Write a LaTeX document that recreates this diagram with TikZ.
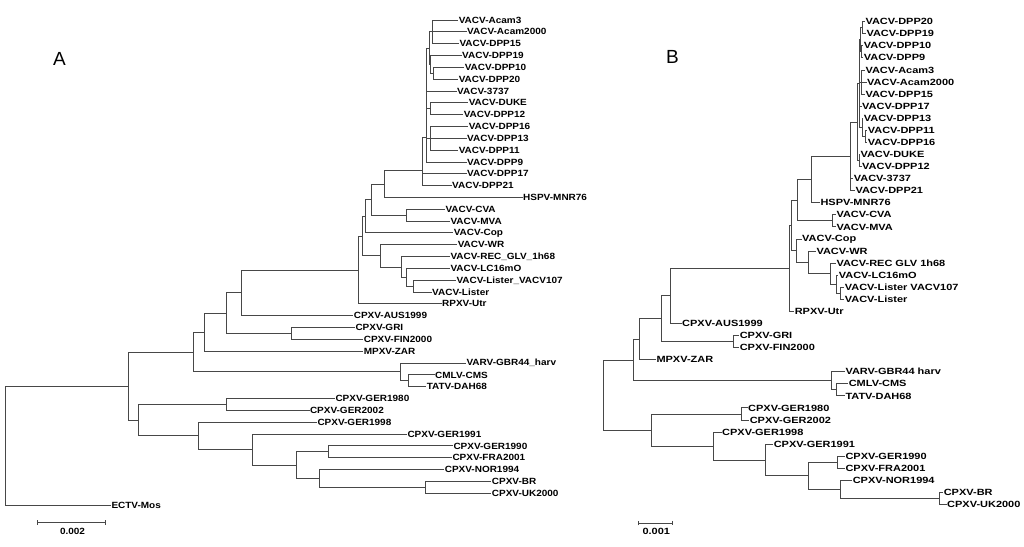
\documentclass[tikz,border=0pt]{standalone}
\usepackage{fontspec}
\setmainfont{Liberation Sans}
\newfontfamily\treefontA[FakeStretch=1.11]{Liberation Sans}
\newfontfamily\treefontB[FakeStretch=1.22]{Liberation Sans}
\usetikzlibrary{arrows.meta}

\tikzset{
  branch/.style={draw=black!72,line width=1pt},
  leafA/.style={anchor=west,inner xsep=0.3pt,inner ysep=0pt,font=\treefontA\fontsize{9}{9}\selectfont\bfseries},
  leafB/.style={anchor=west,inner xsep=0.3pt,inner ysep=0pt,font=\treefontB\fontsize{9}{9}\selectfont\bfseries},
  panel/.style={font=\fontsize{19}{19}\selectfont},
  scalebar/.style={draw=black!72,line width=1.2pt,{Bar[width=4.5pt]}-{Bar[width=4.5pt]}}
}

\begin{document}
\begin{tikzpicture}[x=1pt,y=-1pt]
\useasboundingbox (0,0) rectangle (1024,546);

% ---------------- tree A ----------------
\node[panel] (labA) at (59.5,59) {A};

\node[leafA] (aAcam3) at (458.3,20) {VACV-Acam3};
\node[leafA] (aAcam2000) at (466.7,31.8) {VACV-Acam2000};
\node[leafA] (aDPP15) at (459,43.7) {VACV-DPP15};
\node[leafA] (aDPP19) at (461.7,55.5) {VACV-DPP19};
\node[leafA] (aDPP10) at (464.3,67.3) {VACV-DPP10};
\node[leafA] (aDPP20) at (458.3,79.2) {VACV-DPP20};
\node[leafA] (a3737) at (456.7,91) {VACV-3737};
\node[leafA] (aDUKE) at (468.3,102.8) {VACV-DUKE};
\node[leafA] (aDPP12) at (463.3,114.6) {VACV-DPP12};
\node[leafA] (aDPP16) at (468.3,126.5) {VACV-DPP16};
\node[leafA] (aDPP13) at (466.7,138.3) {VACV-DPP13};
\node[leafA] (aDPP11) at (458.3,150.1) {VACV-DPP11};
\node[leafA] (aDPP9) at (466.7,162) {VACV-DPP9};
\node[leafA] (aDPP17) at (466.7,173.8) {VACV-DPP17};
\node[leafA] (aDPP21) at (451.7,185.6) {VACV-DPP21};
\node[leafA] (aHSPV) at (522.7,197.5) {HSPV-MNR76};
\node[leafA] (aCVA) at (445,209.3) {VACV-CVA};
\node[leafA] (aMVA) at (450,221.1) {VACV-MVA};
\node[leafA] (aCop) at (453.3,232.9) {VACV-Cop};
\node[leafA] (aWR) at (457.3,244.8) {VACV-WR};
\node[leafA] (aREC) at (450,256.6) {VACV-REC\_GLV\_1h68};
\node[leafA] (aLC) at (450,268.4) {VACV-LC16mO};
\node[leafA] (aLV) at (456,280.3) {VACV-Lister\_VACV107};
\node[leafA] (aLister) at (431.7,292.1) {VACV-Lister};
\node[leafA] (aRPXV) at (441.7,303.9) {RPXV-Utr};
\node[leafA] (aAUS) at (353.3,315.8) {CPXV-AUS1999};
\node[leafA] (aGRI) at (355,327.6) {CPXV-GRI};
\node[leafA] (aFIN) at (363.3,339.4) {CPXV-FIN2000};
\node[leafA] (aMPXV) at (363.3,351.2) {MPXV-ZAR};
\node[leafA] (aVARV) at (466,363.1) {VARV-GBR44\_harv};
\node[leafA] (aCMLV) at (434.7,374.9) {CMLV-CMS};
\node[leafA] (aTATV) at (426.3,386.7) {TATV-DAH68};
\node[leafA] (aG80) at (335,398.6) {CPXV-GER1980};
\node[leafA] (aG02) at (309.5,410.4) {CPXV-GER2002};
\node[leafA] (aG98) at (317,422.2) {CPXV-GER1998};
\node[leafA] (aG91) at (407,434) {CPXV-GER1991};
\node[leafA] (aG90) at (453,445.9) {CPXV-GER1990};
\node[leafA] (aFRA) at (452,457.7) {CPXV-FRA2001};
\node[leafA] (aNOR) at (444.3,469.5) {CPXV-NOR1994};
\node[leafA] (aBR) at (491.4,481.4) {CPXV-BR};
\node[leafA] (aUK) at (491.4,493.2) {CPXV-UK2000};
\node[leafA] (aECTV) at (111,505) {ECTV-Mos};

\coordinate (aN1) at (432.7,31.8);
\coordinate (aN2) at (433.3,73.2);
\coordinate (aN3) at (430.7,64.4);
\coordinate (aN4) at (430.7,108.7);
\coordinate (aN5) at (430.7,138.3);
\coordinate (aC1) at (429,48.1);
\coordinate (aC2) at (426.7,69.5);
\coordinate (aC3) at (426.7,89.1);
\coordinate (aC4) at (426.7,113.7);
\coordinate (aC5) at (426.7,137.8);
\coordinate (aC6) at (422.7,155.8);
\coordinate (aC7) at (422.3,170.7);
\coordinate (aN6) at (384,184.1);
\coordinate (aN7) at (406.7,215.2);
\coordinate (aN8) at (371.7,199.6);
\coordinate (aN9) at (365,216.3);
\coordinate (aL1) at (413.3,286.2);
\coordinate (aL2) at (406.7,277.3);
\coordinate (aL3) at (401.7,267);
\coordinate (aL4) at (380,255.9);
\coordinate (aN10) at (362.7,236.1);
\coordinate (aN11) at (358.3,270);
\coordinate (aN12) at (241,292.9);
\coordinate (aN13) at (291.8,333.5);
\coordinate (aN14) at (226,313.2);
\coordinate (aN15) at (204,332.2);
\coordinate (aN16) at (408,380.8);
\coordinate (aN17) at (400,371.9);
\coordinate (aN18) at (193.4,352);
\coordinate (aG1) at (226.7,404.5);
\coordinate (aG2) at (328.6,451.8);
\coordinate (aG3) at (425,487.3);
\coordinate (aG4) at (319.8,478.4);
\coordinate (aG5) at (296,465.1);
\coordinate (aG6) at (252.8,449.6);
\coordinate (aG7) at (198.4,435.9);
\coordinate (aG8) at (138.6,420.2);
\coordinate (aN19) at (128.3,386.1);
\coordinate (aRoot) at (5.4,445.6);

\draw[branch] (aN1) |- (aAcam3) (aN1) |- (aAcam2000) (aN1) |- (aDPP15);
\draw[branch] (aN2) |- (aDPP10) (aN2) |- (aDPP20);
\draw[branch] (aN3) |- (aDPP19) (aN3) |- (aN2);
\draw[branch] (aN4) |- (aDUKE) (aN4) |- (aDPP12);
\draw[branch] (aN5) |- (aDPP16) (aN5) |- (aDPP13) (aN5) |- (aDPP11);
\draw[branch] (aC1) |- (aN1) (aC1) |- (aN3);
\draw[branch] (aC2) |- (aC1) (aC2) |- (a3737);
\draw[branch] (aC3) |- (aC2) (aC3) |- (aN4);
\draw[branch] (aC4) |- (aC3) (aC4) |- (aN5);
\draw[branch] (aC5) |- (aC4) (aC5) |- (aDPP9);
\draw[branch] (aC6) |- (aC5) (aC6) |- (aDPP17);
\draw[branch] (aC7) |- (aC6) (aC7) |- (aDPP21);
\draw[branch] (aN6) |- (aC7) (aN6) |- (aHSPV);
\draw[branch] (aN7) |- (aCVA) (aN7) |- (aMVA);
\draw[branch] (aN8) |- (aN6) (aN8) |- (aN7);
\draw[branch] (aN9) |- (aN8) (aN9) |- (aCop);
\draw[branch] (aL1) |- (aLV) (aL1) |- (aLister);
\draw[branch] (aL2) |- (aLC) (aL2) |- (aL1);
\draw[branch] (aL3) |- (aREC) (aL3) |- (aL2);
\draw[branch] (aL4) |- (aWR) (aL4) |- (aL3);
\draw[branch] (aN10) |- (aN9) (aN10) |- (aL4);
\draw[branch] (aN11) |- (aN10) (aN11) |- (aRPXV);
\draw[branch] (aN12) |- (aN11) (aN12) |- (aAUS);
\draw[branch] (aN13) |- (aGRI) (aN13) |- (aFIN);
\draw[branch] (aN14) |- (aN12) (aN14) |- (aN13);
\draw[branch] (aN15) |- (aN14) (aN15) |- (aMPXV);
\draw[branch] (aN16) |- (aCMLV) (aN16) |- (aTATV);
\draw[branch] (aN17) |- (aVARV) (aN17) |- (aN16);
\draw[branch] (aN18) |- (aN15) (aN18) |- (aN17);
\draw[branch] (aG1) |- (aG80) (aG1) |- (aG02);
\draw[branch] (aG2) |- (aG90) (aG2) |- (aFRA);
\draw[branch] (aG3) |- (aBR) (aG3) |- (aUK);
\draw[branch] (aG4) |- (aNOR) (aG4) |- (aG3);
\draw[branch] (aG5) |- (aG2) (aG5) |- (aG4);
\draw[branch] (aG6) |- (aG91) (aG6) |- (aG5);
\draw[branch] (aG7) |- (aG98) (aG7) |- (aG6);
\draw[branch] (aG8) |- (aG1) (aG8) |- (aG7);
\draw[branch] (aN19) |- (aN18) (aN19) |- (aG8);
\draw[branch] (aRoot) |- (aN19) (aRoot) |- (aECTV);

\coordinate (aBarL) at (36.5,522.7);
\coordinate (aBarR) at (106,522.7);
\draw[scalebar] (aBarL) -- (aBarR);
\node[leafA,anchor=center] (aScale) at (72.5,531) {0.002};

% ---------------- tree B ----------------
\node[panel] (labB) at (672.5,57) {B};

\node[leafB] (bDPP20) at (865,21.7) {VACV-DPP20};
\node[leafB] (bDPP19) at (866,33.8) {VACV-DPP19};
\node[leafB] (bDPP10) at (863.3,45.8) {VACV-DPP10};
\node[leafB] (bDPP9) at (863.3,57.9) {VACV-DPP9};
\node[leafB] (bAcam3) at (865,70) {VACV-Acam3};
\node[leafB] (bAcam2000) at (866.7,82.1) {VACV-Acam2000};
\node[leafB] (bDPP15) at (865,94.1) {VACV-DPP15};
\node[leafB] (bDPP17) at (861.7,106.2) {VACV-DPP17};
\node[leafB] (bDPP13) at (863.3,118.3) {VACV-DPP13};
\node[leafB] (bDPP11) at (867.3,130.3) {VACV-DPP11};
\node[leafB] (bDPP16) at (867.3,142.4) {VACV-DPP16};
\node[leafB] (bDUKE) at (860,154.5) {VACV-DUKE};
\node[leafB] (bDPP12) at (861.7,166.5) {VACV-DPP12};
\node[leafB] (b3737) at (853.3,178.6) {VACV-3737};
\node[leafB] (bDPP21) at (855,190.7) {VACV-DPP21};
\node[leafB] (bHSPV) at (820,202.8) {HSPV-MNR76};
\node[leafB] (bCVA) at (836,214.8) {VACV-CVA};
\node[leafB] (bMVA) at (836,226.9) {VACV-MVA};
\node[leafB] (bCop) at (801.7,239) {VACV-Cop};
\node[leafB] (bWR) at (816,251) {VACV-WR};
\node[leafB] (bREC) at (836,263.1) {VACV-REC GLV 1h68};
\node[leafB] (bLC) at (838.3,275.2) {VACV-LC16mO};
\node[leafB] (bLV) at (844.3,287.2) {VACV-Lister VACV107};
\node[leafB] (bLister) at (844.3,299.3) {VACV-Lister};
\node[leafB] (bRPXV) at (794.3,311.4) {RPXV-Utr};
\node[leafB] (bAUS) at (681.7,323.5) {CPXV-AUS1999};
\node[leafB] (bGRI) at (739.3,335.5) {CPXV-GRI};
\node[leafB] (bFIN) at (739.3,347.6) {CPXV-FIN2000};
\node[leafB] (bMPXV) at (656,359.7) {MPXV-ZAR};
\node[leafB] (bVARV) at (845,371.7) {VARV-GBR44 harv};
\node[leafB] (bCMLV) at (848.3,383.8) {CMLV-CMS};
\node[leafB] (bTATV) at (845,395.9) {TATV-DAH68};
\node[leafB] (bG80) at (747.7,407.9) {CPXV-GER1980};
\node[leafB] (bG02) at (749.3,420) {CPXV-GER2002};
\node[leafB] (bG98) at (721.7,432.1) {CPXV-GER1998};
\node[leafB] (bG91) at (773.3,444.2) {CPXV-GER1991};
\node[leafB] (bG90) at (845,456.2) {CPXV-GER1990};
\node[leafB] (bFRA) at (845,468.3) {CPXV-FRA2001};
\node[leafB] (bNOR) at (852.3,480.4) {CPXV-NOR1994};
\node[leafB] (bBR) at (943.3,492.4) {CPXV-BR};
\node[leafB] (bUK) at (946.7,504.5) {CPXV-UK2000};

\coordinate (bN1) at (862,27.7);
\coordinate (bN2) at (861,51.9);
\coordinate (bN3) at (860,39.8);
\coordinate (bN4) at (861.7,82.1);
\coordinate (bN5) at (865,136.4);
\coordinate (bN6) at (862,127.3);
\coordinate (bN7) at (859.3,83.6);
\coordinate (bN8) at (859,160.5);
\coordinate (bN9) at (857.3,122);
\coordinate (bN10) at (850.7,156.4);
\coordinate (bN11) at (811.7,179.6);
\coordinate (bN12) at (832.3,220.9);
\coordinate (bN13) at (797.7,200.2);
\coordinate (bL1) at (840.7,293.3);
\coordinate (bL2) at (836,284.2);
\coordinate (bL3) at (830,273.7);
\coordinate (bL4) at (808.3,262.4);
\coordinate (bN14) at (796.7,250.7);
\coordinate (bN15) at (791.7,225.4);
\coordinate (bN16) at (789,268.4);
\coordinate (bN17) at (670,295.9);
\coordinate (bN18) at (733.3,341.6);
\coordinate (bN19) at (661.7,318.7);
\coordinate (bN20) at (639.3,339.2);
\coordinate (bN21) at (836.7,389.8);
\coordinate (bN22) at (831,380.8);
\coordinate (bN23) at (633.3,360);
\coordinate (bG1) at (741.7,414);
\coordinate (bG2) at (837.3,462.2);
\coordinate (bG3) at (939.3,498.5);
\coordinate (bG4) at (840.7,489.4);
\coordinate (bG5) at (808.3,475.8);
\coordinate (bG6) at (765,460);
\coordinate (bG7) at (713.3,446);
\coordinate (bG8) at (651.7,430);
\coordinate (bRoot) at (603.3,395);

\draw[branch] (bN1) |- (bDPP20) (bN1) |- (bDPP19);
\draw[branch] (bN2) |- (bDPP10) (bN2) |- (bDPP9);
\draw[branch] (bN3) |- (bN1) (bN3) |- (bN2);
\draw[branch] (bN4) |- (bAcam3) (bN4) |- (bAcam2000) (bN4) |- (bDPP15);
\draw[branch] (bN5) |- (bDPP11) (bN5) |- (bDPP16);
\draw[branch] (bN6) |- (bDPP13) (bN6) |- (bN5);
\draw[branch] (bN7) |- (bN3) (bN7) |- (bN4) (bN7) |- (bDPP17) (bN7) |- (bN6);
\draw[branch] (bN8) |- (bDUKE) (bN8) |- (bDPP12);
\draw[branch] (bN9) |- (bN7) (bN9) |- (bN8);
\draw[branch] (bN10) |- (bN9) (bN10) |- (b3737) (bN10) |- (bDPP21);
\draw[branch] (bN11) |- (bN10) (bN11) |- (bHSPV);
\draw[branch] (bN12) |- (bCVA) (bN12) |- (bMVA);
\draw[branch] (bN13) |- (bN11) (bN13) |- (bN12);
\draw[branch] (bL1) |- (bLV) (bL1) |- (bLister);
\draw[branch] (bL2) |- (bLC) (bL2) |- (bL1);
\draw[branch] (bL3) |- (bREC) (bL3) |- (bL2);
\draw[branch] (bL4) |- (bWR) (bL4) |- (bL3);
\draw[branch] (bN14) |- (bCop) (bN14) |- (bL4);
\draw[branch] (bN15) |- (bN13) (bN15) |- (bN14);
\draw[branch] (bN16) |- (bN15) (bN16) |- (bRPXV);
\draw[branch] (bN17) |- (bN16) (bN17) |- (bAUS);
\draw[branch] (bN18) |- (bGRI) (bN18) |- (bFIN);
\draw[branch] (bN19) |- (bN17) (bN19) |- (bN18);
\draw[branch] (bN20) |- (bN19) (bN20) |- (bMPXV);
\draw[branch] (bN21) |- (bCMLV) (bN21) |- (bTATV);
\draw[branch] (bN22) |- (bVARV) (bN22) |- (bN21);
\draw[branch] (bN23) |- (bN20) (bN23) |- (bN22);
\draw[branch] (bG1) |- (bG80) (bG1) |- (bG02);
\draw[branch] (bG2) |- (bG90) (bG2) |- (bFRA);
\draw[branch] (bG3) |- (bBR) (bG3) |- (bUK);
\draw[branch] (bG4) |- (bNOR) (bG4) |- (bG3);
\draw[branch] (bG5) |- (bG2) (bG5) |- (bG4);
\draw[branch] (bG6) |- (bG91) (bG6) |- (bG5);
\draw[branch] (bG7) |- (bG98) (bG7) |- (bG6);
\draw[branch] (bG8) |- (bG1) (bG8) |- (bG7);
\draw[branch] (bRoot) |- (bN23) (bRoot) |- (bG8);

\coordinate (bBarL) at (638,523.2);
\coordinate (bBarR) at (673.3,523.2);
\draw[scalebar] (bBarL) -- (bBarR);
\node[leafB,anchor=center] (bScale) at (656.3,531.2) {0.001};
\end{tikzpicture}
\end{document}
